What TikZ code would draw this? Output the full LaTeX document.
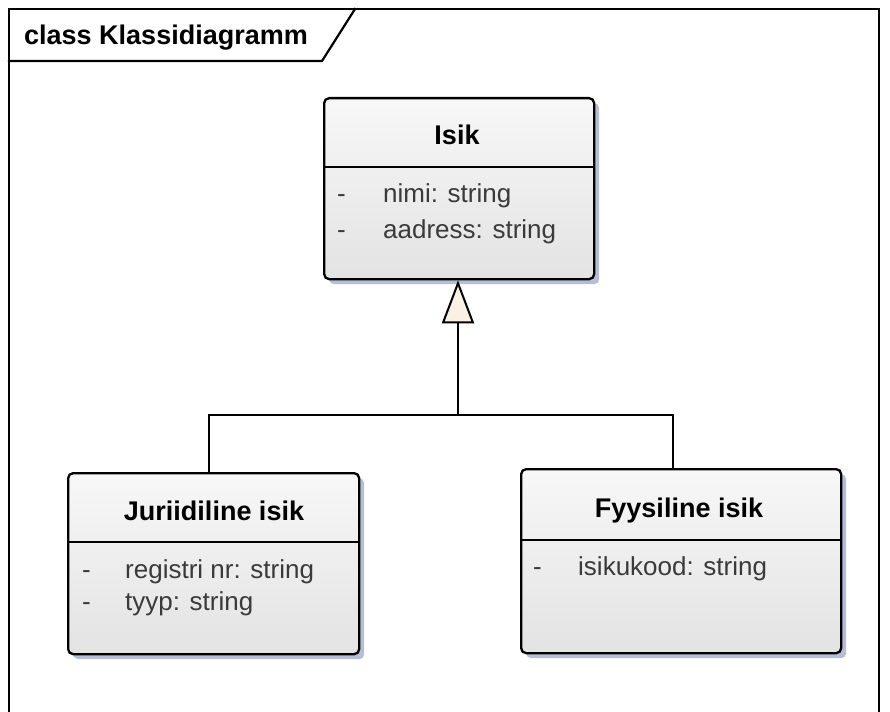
\documentclass[tikz,border=0pt]{standalone}
\usepackage{fontspec}
\setmainfont{Liberation Sans}
\usetikzlibrary{arrows.meta,shadows}
\definecolor{shadowblue}{RGB}{182,189,212}
\definecolor{cream}{RGB}{250,240,227}
\definecolor{attrgray}{RGB}{58,58,58}
\tikzset{
  umlclass/.style={draw, line width=2.3pt, rounded corners=5pt, inner sep=0pt,
    anchor=north west, shading=axis, top color=black!3, middle color=white,
    bottom color=black!11,
    drop shadow={shadow xshift=5pt, shadow yshift=-5pt, fill=shadowblue, opacity=1}},
  divider/.style={line width=2pt},
  classname/.style={font=\fontsize{27}{32}\selectfont\bfseries, anchor=base, inner sep=0pt},
  attr/.style={font=\fontsize{26}{31}\selectfont, text=attrgray, anchor=base west, inner sep=0pt},
  conn/.style={line width=2pt},
  frameline/.style={line width=2.2pt, line cap=rect}
}
\begin{document}
\begin{tikzpicture}[x=1pt,y=-1pt]
  \useasboundingbox (0,0) rectangle (890,711);

  % diagram frame with its name tab
  \draw[frameline] (9,711) -- (9,9) -- (879,9) -- (879,711);
  \draw[frameline] (9,61) -- (322,61) -- (355,9);
  \node[font=\fontsize{27}{32}\selectfont\bfseries, anchor=base west, inner sep=0pt]
    (frametitle) at (24,45) {class Klassidiagramm};

  % class Isik
  \node[umlclass, minimum width=270pt, minimum height=181pt] (isik) at (323,97) {};
  \draw[divider] (isik.west |- 0,167) -- (isik.east |- 0,167);
  \node[classname] (isikname) at (457,145) {Isik};
  \node[attr] (isikd1) at (337,203) {-};
  \node[attr] (isika1) at (383,203) {nimi: string};
  \node[attr] (isikd2) at (337,238) {-};
  \node[attr] (isika2) at (383,238) {aadress: string};

  % class Juriidiline isik
  \node[umlclass, minimum width=291pt, minimum height=181pt] (jur) at (67,472) {};
  \draw[divider] (jur.west |- 0,542) -- (jur.east |- 0,542);
  \node[classname] (jurname) at (214,520) {Juriidiline isik};
  \node[attr] (jurd1) at (82,578) {-};
  \node[attr] (jura1) at (125,578) {registri nr: string};
  \node[attr] (jurd2) at (82,610) {-};
  \node[attr] (jura2) at (125,610) {tyyp: string};

  % class Fyysiline isik
  \node[umlclass, minimum width=320pt, minimum height=184pt] (fyys) at (520,468) {};
  \draw[divider] (fyys.west |- 0,540) -- (fyys.east |- 0,540);
  \node[classname] (fyysname) at (679,517) {Fyysiline isik};
  \node[attr] (fyysd1) at (533,575) {-};
  \node[attr] (fyysa1) at (578,575) {isikukood: string};

  % generalization to Isik
  \coordinate (joint) at (458,415);
  \coordinate (jurtop) at (209,472);
  \coordinate (fyystop) at (673,468);
  \draw[conn] (jurtop) |- (joint);
  \draw[conn] (fyystop) |- (joint);
  \draw[conn, -{Triangle[open, fill=cream, width=32pt, length=43pt, line width=2pt]}]
    (joint) -- (isik.south -| joint);
\end{tikzpicture}
\end{document}
